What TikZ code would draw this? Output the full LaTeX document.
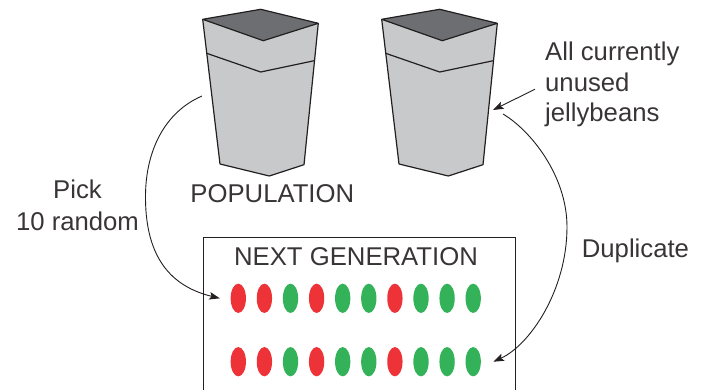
\documentclass[tikz,border=0pt]{standalone}
\usepackage{fontspec}
\setmainfont{Liberation Sans}
\usetikzlibrary{arrows.meta,shapes.geometric}
\definecolor{beanred}{RGB}{237,50,56}
\definecolor{beangreen}{RGB}{52,178,90}
\definecolor{jarlight}{RGB}{200,201,203}
\definecolor{jardark}{RGB}{109,110,113}
\definecolor{ink}{RGB}{35,31,32}
\begin{document}
\begin{tikzpicture}[x=1pt,y=-1pt,
  lbl/.style={font=\fontsize{25.7}{30.5}\selectfont, text=ink!90, inner sep=0pt},
  bean/.style={ellipse, minimum width=15.3pt, minimum height=29.3pt, inner sep=0pt, draw=none},
  jaredge/.style={draw=ink, line width=1.2pt, line join=round},
  flow/.style={draw=ink, line width=0.9pt, -{Stealth[length=10.5pt,width=7.5pt,inset=2pt]}},
  jar/.pic={
    % body of the jar
    \fill[jarlight] (202.7,19.3) -- (260.7,9.3) -- (318.3,23.3) -- (304,164.7)
      -- (269.3,176) -- (220,164) -- cycle;
    % lid seen from above
    \filldraw[jaredge, fill=jardark] (202.7,19.3) -- (260.7,9.3) -- (318.3,23.3)
      -- (263.3,40.7) -- cycle;
    % sides and bottom rim
    \draw[jaredge] (202.7,19.3) -- (220,164) -- (269.3,176) -- (304,164.7) -- (318.3,23.3);
    % band below the lid
    \draw[jaredge] (206.7,53.3) -- (260.7,72) -- (314.3,60.7);
  }]
\useasboundingbox (0,0) rectangle (705,389);

% the two jars
\pic (popjar) at (0,0) {jar};
\pic (pooljar) at (179,0) {jar};

% anchor points on the jars for the connectors
\coordinate (popside) at (202,96);
\coordinate (poolside) at (493,110);
\coordinate (poolout) at (503,114);

% next generation box (bottom edge lies below the page)
\node[draw=ink, line width=1.1pt, minimum width=311.7pt, minimum height=200pt,
      anchor=north west, inner sep=0pt] (nextgen) at (203.3,236.7) {};
\node[lbl, anchor=base] (title) at (356,265) {NEXT GENERATION};

% two rows of jellybeans
\foreach \c [count=\i] in {beanred,beanred,beangreen,beanred,beangreen,
                           beangreen,beanred,beangreen,beangreen,beangreen} {
  \node[bean, fill=\c] (b\i) at ({238.3+26.1*(\i-1)},298.3) {};
  \node[bean, fill=\c] (c\i) at ({238.3+26.1*(\i-1)},361.7) {};
}

% labels
\node[lbl, anchor=base] (poplabel) at (272.3,202.7) {POPULATION};
\node[lbl, anchor=base] (pick) at (77.5,198.3) {Pick};
\node[lbl, anchor=base] (pickn) at (77.5,230) {10 random};
\node[lbl, anchor=base west] (unusedA) at (545,60.7) {All currently};
\node[lbl, anchor=base west] (unusedB) at (545,91.7) {unused};
\node[lbl, anchor=base west] (unusedC) at (545,121.7) {jellybeans};
\node[lbl, anchor=base west] (dup) at (581.7,257.3) {Duplicate};

% connectors
\coordinate (rowAin) at ([xshift=-10.6pt]b1.west);
\coordinate (rowBin) at ([xshift=12.3pt]c10.east);
\draw[flow] (popside) .. controls (165,112) and (146,150) .. (145.5,195)
  .. controls (145,250) and (165,285) .. (rowAin);
\draw[flow] ([xshift=-10pt,yshift=-6.7pt]unusedB.west) -- (poolside);
\draw[flow] (poolout) .. controls (530,130) and (567,175) .. (567,227)
  .. controls (567,290) and (530,345) .. (rowBin);
\end{tikzpicture}
\end{document}
